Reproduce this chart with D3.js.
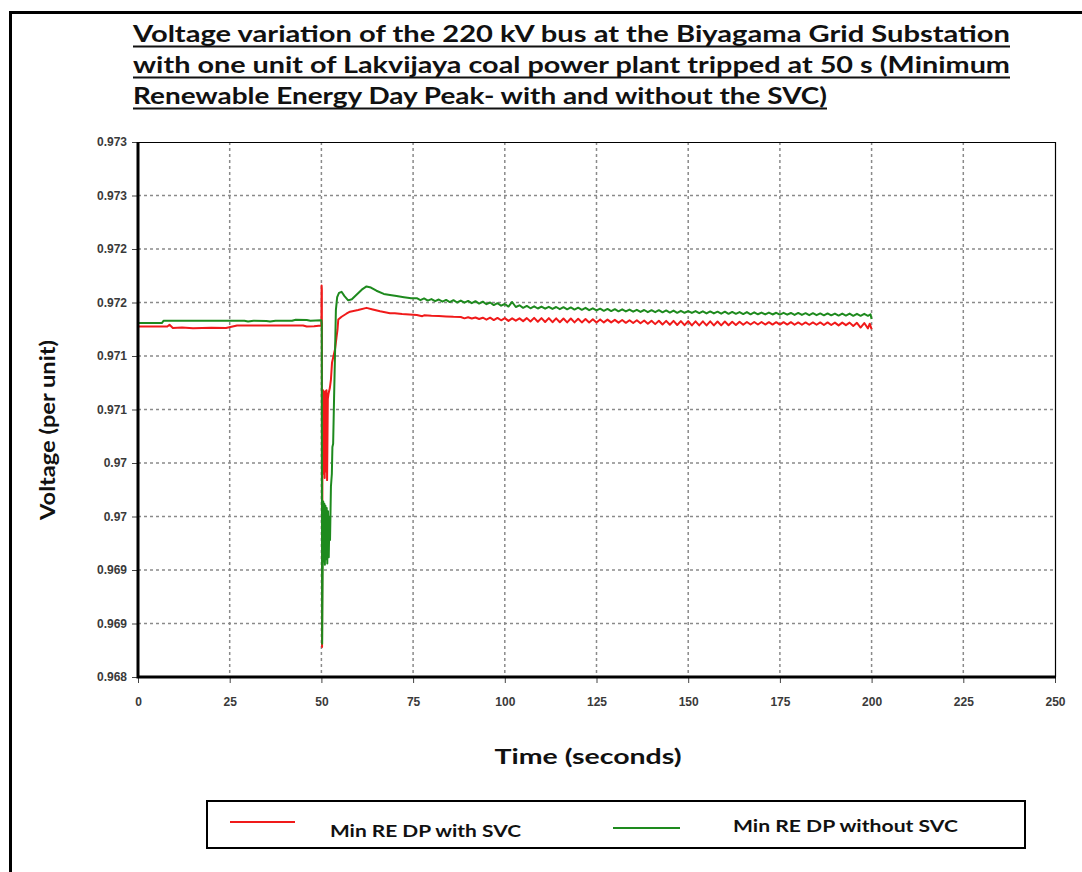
<!DOCTYPE html>
<html>
<head>
<meta charset="utf-8">
<script src="https://cdn.jsdelivr.net/npm/d3@7"></script>
<style>
  body { margin: 0; background: #fff; }
  svg { display: block; }
</style>
</head>
<body>
<svg id="chart" width="1082" height="872"></svg>
<script>
// ---- Text ----
const titleLines = [
  "Voltage variation of the 220 kV bus at the Biyagama Grid Substation",
  "with one unit of Lakvijaya coal power plant tripped at 50 s (Minimum",
  "Renewable Energy Day Peak- with and without the SVC)"
];
const xAxisTitle = "Time (seconds)";
const yAxisTitle = "Voltage (per unit)";
const seriesNames = ["Min RE DP with SVC", "Min RE DP without SVC"];
const seriesColors = ["#f01a1a", "#1e8a1e"];

// ---- Ticks ----
const xTickValues = [0, 25, 50, 75, 100, 125, 150, 175, 200, 225, 250];
const xTickLabels = ["0", "25", "50", "75", "100", "125", "150", "175", "200", "225", "250"];
const yTickValues = [0.968, 0.9685, 0.969, 0.9695, 0.970, 0.9705, 0.971, 0.9715, 0.972, 0.9725, 0.973];
const yTickLabels = ["0.968", "0.969", "0.969", "0.97", "0.97", "0.971", "0.971", "0.972", "0.972", "0.973", "0.973"];

// ---- Series: [time (s), voltage (p.u.)] ----
const withSvc = [
  [0, 0.971275], [8, 0.971275], [8.6, 0.971292], [9.5, 0.971262], [12, 0.971266], [15, 0.971260],
  [20, 0.971264], [24, 0.971262], [27, 0.971285], [40, 0.971285], [45, 0.971285], [46, 0.971276],
  [48, 0.971278], [49.9, 0.971285],
  [50.0, 0.971285], [50.05, 0.97166], [50.12, 0.97162], [50.18, 0.96828], [50.3, 0.97040],
  [50.45, 0.97068], [50.6, 0.96990], [50.75, 0.97066], [50.9, 0.96986], [51.05, 0.97067],
  [51.2, 0.96992], [51.4, 0.97068], [51.55, 0.96984], [51.75, 0.97060], [51.95, 0.97065],
  [52.3, 0.97070], [52.6, 0.97078], [52.9, 0.97094], [53.3, 0.97100], [53.7, 0.97106],
  [54.1, 0.97117], [54.4, 0.97125], [54.6, 0.97134], [55.5, 0.971367], [56.8, 0.971395],
  [57.8, 0.971414], [60, 0.97143], [62.3, 0.97145], [64, 0.971435], [66, 0.971418],
  [68.7, 0.97140], [70, 0.971400], [72, 0.971392], [74, 0.971388], [76, 0.971384],
  [77.5, 0.971372], [78, 0.971380], [80, 0.971376], [82, 0.971374], [84, 0.971370],
  [86, 0.971366], [88, 0.971364], [89, 0.971352], [90, 0.971362], [91, 0.971350],
  [92, 0.971360], [93, 0.971346], [94, 0.971358], [95, 0.971340], [96, 0.971358],
  [97, 0.971336], [98, 0.971356], [99, 0.971334], [100, 0.971354], [101, 0.971328],
  [102, 0.971352], [103, 0.971330], [104, 0.971352], [105, 0.971326], [106, 0.971354],
  [107, 0.971322], [108, 0.971356], [109, 0.971320], [110, 0.971354], [111, 0.971318],
  [112, 0.971354], [113, 0.971316], [114, 0.971352], [115, 0.971316], [116, 0.971350],
  [117, 0.971314], [118, 0.971350], [119, 0.971314], [120, 0.971348], [121, 0.971314],
  [122, 0.971346], [123, 0.971314], [124, 0.971344], [125, 0.971314], [126, 0.971342],
  [127, 0.971314], [128, 0.971340], [129, 0.971314], [130, 0.971338], [131, 0.971312],
  [132, 0.971336], [133, 0.971310], [134, 0.971334], [135, 0.971308], [136, 0.971334],
  [137, 0.971306], [138, 0.971332], [139, 0.971302], [140, 0.971330], [141, 0.971298],
  [142, 0.971330], [143, 0.971294], [144, 0.971328], [145, 0.971292], [146, 0.971328],
  [147, 0.971290], [148, 0.971326], [149, 0.971288], [150, 0.971326], [151, 0.971286],
  [152, 0.971324], [153, 0.971286], [154, 0.971324], [155, 0.971286], [156, 0.971324],
  [157, 0.971286], [158, 0.971322], [159, 0.971286], [160, 0.971322], [161, 0.971288],
  [162, 0.971320], [163, 0.971290], [164, 0.971320], [165, 0.971292], [166, 0.971318],
  [167, 0.971294], [168, 0.971318], [169, 0.971294], [170, 0.971318], [171, 0.971294],
  [172, 0.971316], [173, 0.971294], [174, 0.971316], [175, 0.971294], [176, 0.971316],
  [177, 0.971294], [178, 0.971316], [179, 0.971292], [180, 0.971314], [181, 0.971292],
  [182, 0.971314], [183, 0.971292], [184, 0.971314], [185, 0.971292], [186, 0.971314],
  [187, 0.971290], [188, 0.971314], [189, 0.971290], [190, 0.971312], [191, 0.971286],
  [192, 0.971312], [193, 0.971288], [194, 0.971312], [195, 0.971280], [196, 0.971310],
  [197, 0.971266], [198, 0.971308], [199, 0.971258], [199.5, 0.971302], [200, 0.971250]
];

const withoutSvc = [
  [0, 0.971308], [6.5, 0.971308], [7, 0.971330], [20, 0.971330], [29, 0.971330], [30, 0.971322],
  [31.5, 0.971330], [35, 0.971328], [36, 0.971322], [37.5, 0.971330], [42, 0.971330],
  [43, 0.971338], [46, 0.971336], [47, 0.971330], [49.9, 0.971335],
  [50.0, 0.971335], [50.1, 0.97130], [50.2, 0.96831], [50.35, 0.96905], [50.5, 0.96964],
  [50.65, 0.96908], [50.8, 0.96962], [50.95, 0.96905], [51.1, 0.96960], [51.3, 0.96910],
  [51.45, 0.96958], [51.6, 0.96906], [51.8, 0.96955], [52.0, 0.96912], [52.2, 0.96950],
  [52.35, 0.96928], [52.6, 0.96978], [52.85, 0.96990], [53.0, 0.97015], [53.2, 0.97018],
  [53.45, 0.97060], [53.7, 0.97100], [53.95, 0.97143], [54.3, 0.97155], [54.8, 0.97159],
  [55.5, 0.97160], [56.3, 0.97156], [57.3, 0.97152], [58.3, 0.97153], [59.5, 0.97157],
  [61, 0.97162], [62.3, 0.97165], [63.5, 0.97164], [65, 0.97161], [67, 0.97158],
  [68.7, 0.97157], [70.5, 0.97156], [72.5, 0.97155], [74.5, 0.97154],
  [76, 0.971540], [77, 0.971522], [78, 0.971538], [79, 0.971518], [80, 0.971532],
  [81, 0.971512], [82, 0.971528], [83, 0.971508], [84, 0.971524], [85, 0.971504],
  [86, 0.971522], [87, 0.971500], [88, 0.971518], [89, 0.971498], [90, 0.971515],
  [91, 0.971494], [92, 0.971512], [93, 0.971490], [94, 0.971508], [95, 0.971484],
  [96, 0.971500], [97, 0.971476], [98, 0.971494], [99, 0.971470], [100, 0.971486],
  [101, 0.971462], [102, 0.971505], [103, 0.971458], [104, 0.971474], [105, 0.971450],
  [106, 0.971468], [107, 0.971446], [108, 0.971464], [109, 0.971444], [110, 0.971462],
  [111, 0.971442], [112, 0.971460], [113, 0.971440], [114, 0.971458], [115, 0.971438],
  [116, 0.971456], [117, 0.971436], [118, 0.971454], [119, 0.971434], [120, 0.971452],
  [121, 0.971432], [122, 0.971450], [123, 0.971428], [124, 0.971446], [125, 0.971426],
  [126, 0.971442], [127, 0.971422], [128, 0.971440], [129, 0.971420], [130, 0.971438],
  [131, 0.971418], [132, 0.971436], [133, 0.971416], [134, 0.971434], [135, 0.971414],
  [136, 0.971432], [137, 0.971412], [138, 0.971430], [139, 0.971410], [140, 0.971428],
  [141, 0.971410], [142, 0.971428], [143, 0.971408], [144, 0.971426], [145, 0.971406],
  [146, 0.971424], [147, 0.971404], [148, 0.971422], [149, 0.971404], [150, 0.971420],
  [151, 0.971402], [152, 0.971420], [153, 0.971400], [154, 0.971418], [155, 0.971398],
  [156, 0.971416], [157, 0.971398], [158, 0.971414], [159, 0.971396], [160, 0.971414],
  [161, 0.971394], [162, 0.971412], [163, 0.971394], [164, 0.971410], [165, 0.971392],
  [166, 0.971410], [167, 0.971390], [168, 0.971408], [169, 0.971390], [170, 0.971406],
  [171, 0.971388], [172, 0.971406], [173, 0.971388], [174, 0.971404], [175, 0.971386],
  [176, 0.971404], [177, 0.971386], [178, 0.971402], [179, 0.971384], [180, 0.971402],
  [181, 0.971384], [182, 0.971400], [183, 0.971382], [184, 0.971400], [185, 0.971382],
  [186, 0.971398], [187, 0.971380], [188, 0.971398], [189, 0.971380], [190, 0.971396],
  [191, 0.971378], [192, 0.971396], [193, 0.971378], [194, 0.971396], [195, 0.971376],
  [196, 0.971394], [197, 0.971376], [198, 0.971394], [199, 0.971376], [199.7, 0.971390],
  [200, 0.971345]
];

// ---- Layout ----
const W = 1082, H = 872;
const plot = { left: 138, right: 1055, top: 142, bottom: 677 };
const titleFont = "Lato, 'Open Sans', sans-serif";
const tickFont = "'Liberation Sans Narrow', 'Liberation Sans', Arial, sans-serif";

const svg = d3.select("#chart");

// outer page frame (top and left edges show)
svg.append("path")
  .attr("d", `M10.5,${H} V12.5 H${W}`)
  .attr("fill", "none").attr("stroke", "#000").attr("stroke-width", 3);

// title, underlined
const titleWidths = [877, 877, 694];
const titleBaselines = [42, 73, 104];
titleLines.forEach((line, i) => {
  svg.append("text")
    .attr("x", 133).attr("y", titleBaselines[i])
    .attr("font-family", titleFont).attr("font-weight", 700).attr("font-size", 23)
    .attr("textLength", titleWidths[i]).attr("lengthAdjust", "spacingAndGlyphs")
    .attr("fill", "#111")
    .text(line);
  svg.append("line")
    .attr("x1", 133).attr("x2", 133 + titleWidths[i])
    .attr("y1", titleBaselines[i] + 4.5).attr("y2", titleBaselines[i] + 4.5)
    .attr("stroke", "#111").attr("stroke-width", 2);
});

// scales
const x = d3.scaleLinear().domain([0, 250]).range([plot.left, plot.right]);
const y = d3.scaleLinear().domain([0.968, 0.973]).range([plot.bottom, plot.top]);

// dotted grid
const grid = svg.append("g").attr("stroke", "#8a8a8a").attr("stroke-width", 1.5)
  .attr("stroke-dasharray", "3,3");
grid.selectAll(".vx").data(xTickValues.slice(1, -1)).join("line")
  .attr("x1", d => x(d)).attr("x2", d => x(d))
  .attr("y1", plot.top).attr("y2", plot.bottom);
grid.selectAll(".hy").data(yTickValues.slice(1, -1)).join("line")
  .attr("x1", plot.left).attr("x2", plot.right)
  .attr("y1", d => y(d)).attr("y2", d => y(d));

// thin top/right plot frame
svg.append("path")
  .attr("d", `M${plot.left},${plot.top + 0.5} H${plot.right + 0.5} V${plot.bottom}`)
  .attr("fill", "none").attr("stroke", "#000").attr("stroke-width", 1.2);

// series lines
const lineGen = d3.line().x(d => x(d[0])).y(d => y(d[1]));
[withSvc, withoutSvc].forEach((data, i) => {
  svg.append("path")
    .datum(data)
    .attr("d", lineGen)
    .attr("fill", "none")
    .attr("stroke", seriesColors[i])
    .attr("stroke-width", 2)
    .attr("stroke-linejoin", "round");
});

// minor ticks
const xMinor = d3.range(0, 251, 5).filter(v => v % 25 !== 0);
const yMinor = d3.range(0, 51).map(k => 0.968 + k * 0.0001).filter((v, k) => k % 5 !== 0);

const yAxisG = svg.append("g").attr("transform", `translate(${plot.left},0)`);
yAxisG.call(d3.axisLeft(y).tickValues(yMinor).tickSize(3).tickFormat(""));
yAxisG.call(d3.axisLeft(y).tickValues(yTickValues).tickSize(6).tickPadding(5)
  .tickFormat((d, i) => yTickLabels[i]));

const xAxisG = svg.append("g").attr("transform", `translate(0,${plot.bottom})`);
xAxisG.call(d3.axisBottom(x).tickValues(xMinor).tickSize(3).tickFormat(""));
xAxisG.call(d3.axisBottom(x).tickValues(xTickValues).tickSize(6).tickPadding(14)
  .tickFormat((d, i) => xTickLabels[i]));

[yAxisG, xAxisG].forEach(g => {
  g.selectAll(".domain").remove();
  g.selectAll(".tick line").attr("stroke", "#444").attr("stroke-width", 1);
  g.selectAll(".tick text").attr("font-family", tickFont).attr("font-size", 12)
    .attr("font-weight", 700).attr("fill", "#3a3a3a");
});

// thick left and bottom axis lines
svg.append("path")
  .attr("d", `M${plot.left},${plot.top} V${plot.bottom} H${plot.right + 1}`)
  .attr("fill", "none").attr("stroke", "#000").attr("stroke-width", 3);

// axis titles
svg.append("text")
  .attr("transform", "translate(55,430) rotate(-90)")
  .attr("text-anchor", "middle")
  .attr("font-family", titleFont).attr("font-weight", 700).attr("font-size", 20)
  .attr("textLength", 180).attr("lengthAdjust", "spacingAndGlyphs")
  .attr("fill", "#111")
  .text(yAxisTitle);

svg.append("text")
  .attr("x", 588).attr("y", 764)
  .attr("text-anchor", "middle")
  .attr("font-family", titleFont).attr("font-weight", 700).attr("font-size", 21)
  .attr("textLength", 187).attr("lengthAdjust", "spacingAndGlyphs")
  .attr("fill", "#111")
  .text(xAxisTitle);

// legend
const legend = svg.append("g");
legend.append("rect")
  .attr("x", 207).attr("y", 801).attr("width", 818).attr("height", 47)
  .attr("fill", "#fff").attr("stroke", "#000").attr("stroke-width", 2);
const legendItems = [
  { sx1: 230, sx2: 295, sy: 822, tx: 330, ty: 837, tw: 191 },
  { sx1: 613, sx2: 680, sy: 828, tx: 733, ty: 832, tw: 225 }
];
legendItems.forEach((it, i) => {
  legend.append("line")
    .attr("x1", it.sx1).attr("x2", it.sx2).attr("y1", it.sy).attr("y2", it.sy)
    .attr("stroke", seriesColors[i]).attr("stroke-width", 2);
  legend.append("text")
    .attr("x", it.tx).attr("y", it.ty)
    .attr("font-family", titleFont).attr("font-weight", 700).attr("font-size", 17)
    .attr("textLength", it.tw).attr("lengthAdjust", "spacingAndGlyphs")
    .attr("fill", "#111")
    .text(seriesNames[i]);
});
</script>
</body>
</html>
